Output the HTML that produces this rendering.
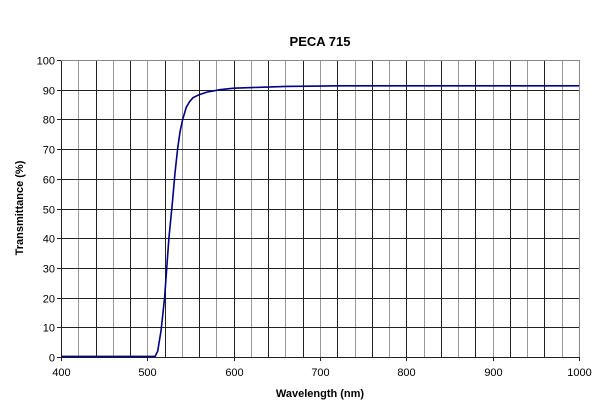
<!DOCTYPE html>
<html><head><meta charset="utf-8"><style>body{margin:0;background:#fff}svg{display:block}</style></head><body>
<svg width="600" height="410" xmlns="http://www.w3.org/2000/svg" font-family="Liberation Sans, sans-serif">
<rect width="600" height="410" fill="#fff"/>
<text x="320" y="46" font-size="13" font-weight="bold" text-anchor="middle">PECA 715</text>
<g id="grid" stroke-width="1" shape-rendering="crispEdges"></g>
<polyline id="c" fill="none" stroke="#000080" stroke-width="1.6"/>
<g font-size="11" fill="#000" id="lab"></g>
<text x="320" y="397" font-size="11" font-weight="bold" text-anchor="middle">Wavelength (nm)</text>
<text transform="translate(23,208) rotate(-90)" font-size="11" font-weight="bold" text-anchor="middle">Transmittance (%)</text>
<script>
var L=61,R=579,T=60,B=357,ns="http://www.w3.org/2000/svg";
function X(w){return L+(w-400)*(R-L)/600}function Y(v){return B-v*(B-T)/100}
var g=document.getElementById('grid'),lab=document.getElementById('lab');
function ln(x1,y1,x2,y2,c){var e=document.createElementNS(ns,'line');e.setAttribute('x1',x1);e.setAttribute('y1',y1);e.setAttribute('x2',x2);e.setAttribute('y2',y2);e.setAttribute('stroke',c);g.appendChild(e);}
function tx(x,y,s,a){var e=document.createElementNS(ns,'text');e.setAttribute('x',x);e.setAttribute('y',y);e.setAttribute('text-anchor',a);e.textContent=s;lab.appendChild(e);}
for(var i=0;i<=30;i++){var x=Math.round(X(400+20*i))+0.5;ln(x,T,x,B,i%2?'#999':'#222');}
for(var j=0;j<=10;j++){var y=Math.round(Y(10*j))+0.5;ln(L,y,R,y,'#222');tx(L-6,y+4,String(10*j),'end');ln(L-4,y,L,y,'#222');}
for(var k=0;k<=6;k++){var x=Math.round(X(400+100*k))+0.5;tx(x,376,String(400+100*k),'middle');ln(x,B,x,B+4,'#222');}
ln(L+.5,T,L+.5,B,'#222');ln(R+.5,T,R+.5,B,'#888');ln(L,T+.5,R,T+.5,'#888');
var d=[[400,0.2],[509,0.2],[512,2],[516,9],[520,20],[525,40],[529,52],[532,62],[535,70],[538,76],[541,80],[545,84],[549,86],[553,87.3],[560,88.3],[569,89.2],[584,90],[600,90.5],[630,90.8],[660,91.1],[700,91.2],[720,91.3],[1000,91.3]];
document.getElementById('c').setAttribute('points',d.map(function(p){return X(p[0]).toFixed(1)+','+Y(p[1]).toFixed(1)}).join(' '));
</script>
</svg>
</body></html>
